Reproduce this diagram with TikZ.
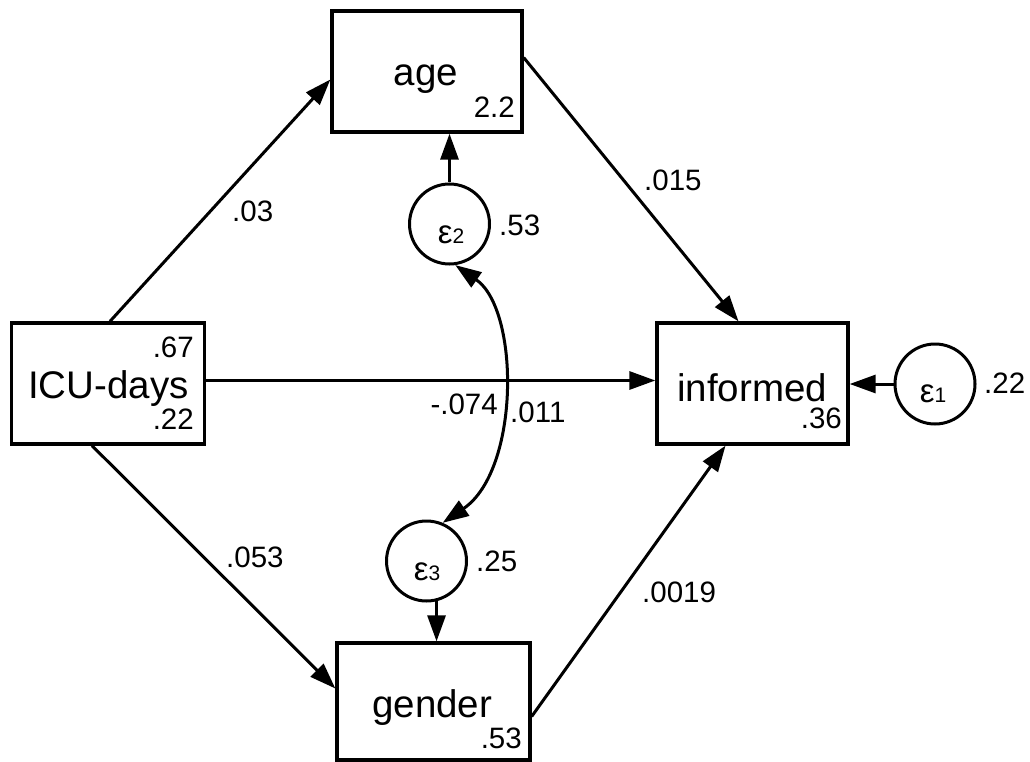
\documentclass[tikz,border=0pt]{standalone}
\usepackage{fontspec}
\setmainfont{Liberation Sans}
\usetikzlibrary{arrows.meta}
\begin{document}
\begin{tikzpicture}[x=1pt,y=-1pt,
  box/.style={draw,line width=3.3pt,inner sep=0pt},
  errc/.style={draw,circle,line width=3pt,minimum size=80pt,inner sep=0pt},
  conn/.style={line width=3pt,-{Triangle[length=26pt,width=18pt]}},
  cov/.style={line width=3pt,{Triangle[length=26pt,width=18pt]}-{Triangle[length=26pt,width=18pt]}},
  big/.style={inner sep=0pt,font=\fontsize{38.5}{40}\selectfont},
  small/.style={inner sep=0pt,font=\fontsize{29.5}{31}\selectfont}]
\useasboundingbox (0,0) rectangle (1030,762);
% boxes
\node[box,minimum width=190pt,minimum height=121pt] (age) at (427,71.5) {};
\node[box,minimum width=193pt,minimum height=121pt] (icu) at (108,383.5) {};
\node[box,minimum width=191pt,minimum height=121pt] (inf) at (752.5,383.5) {};
\node[box,minimum width=193pt,minimum height=117pt] (gen) at (433.5,701.5) {};
% error circles
\node[errc] (e1) at (935,384) {};
\node[errc] (e2) at (449.5,224) {};
\node[errc] (e3) at (426.5,561) {};
% box texts
\node[big,anchor=base] (tage) at (426,86) {age};
\node[small,anchor=base east] (vage) at (515,118) {2.2};
\node[big,anchor=base west] (ticu) at (28,398) {ICU-days};
\node[small,anchor=base east] (vicu1) at (194,357) {.67};
\node[small,anchor=base east] (vicu2) at (194,429) {.22};
\node[big,anchor=base west] (tinf) at (677,401) {informed};
\node[small,anchor=base east] (vinf) at (842,428) {.36};
\node[big,anchor=base west] (tgen) at (372,717) {gender};
\node[small,anchor=base east] (vgen) at (522,748) {.53};
% epsilon texts
\node[inner sep=0pt,anchor=base] (te1) at (933,402) {{\fontsize{33}{34}\selectfont ε}{\fontsize{21}{22}\selectfont 1}};
\node[inner sep=0pt,anchor=base] (te2) at (451,243) {{\fontsize{33}{34}\selectfont ε}{\fontsize{21}{22}\selectfont 2}};
\node[inner sep=0pt,anchor=base] (te3) at (427,580) {{\fontsize{33}{34}\selectfont ε}{\fontsize{21}{22}\selectfont 3}};
\node[small,anchor=base west] (ve1) at (984,393) {.22};
\node[small,anchor=base west] (ve2) at (499,235) {.53};
\node[small,anchor=base west] (ve3) at (476,571) {.25};
% edge labels
\node[small,anchor=base west] (l1) at (232,222) {.03};
\node[small,anchor=base west] (l2) at (644,190) {.015};
\node[small,anchor=base west] (l3) at (226,567) {.053};
\node[small,anchor=base west] (l4) at (642,602) {.0019};
\node[small,anchor=base east] (l5) at (498,414) {-.074};
\node[small,anchor=base west] (l6) at (510,422) {.011};
% connectors
\draw[conn] ([xshift=2pt]icu.north) -- ([yshift=-8pt]age.west);
\draw[conn] ([yshift=14pt]age.east) -- ([xshift=-14pt]inf.north);
\draw[conn] ([yshift=3pt]icu.east) -- ([yshift=3pt]inf.west);
\draw[conn] ([xshift=-16pt]icu.south) -- ([yshift=13pt]gen.west);
\draw[conn] ([yshift=-15pt]gen.east) -- ([xshift=-27pt]inf.south);
\draw[conn] (e1.west) -- (e1.west -| inf.east);
\draw[conn] (e2.north) -- (e2.north |- age.south);
\draw[conn] (e3.-76) -- (e3.-76 |- gen.north);
\draw[cov] (e2.-82) .. controls (520,310) and (520,470) .. (e3.67);
\end{tikzpicture}
\end{document}
